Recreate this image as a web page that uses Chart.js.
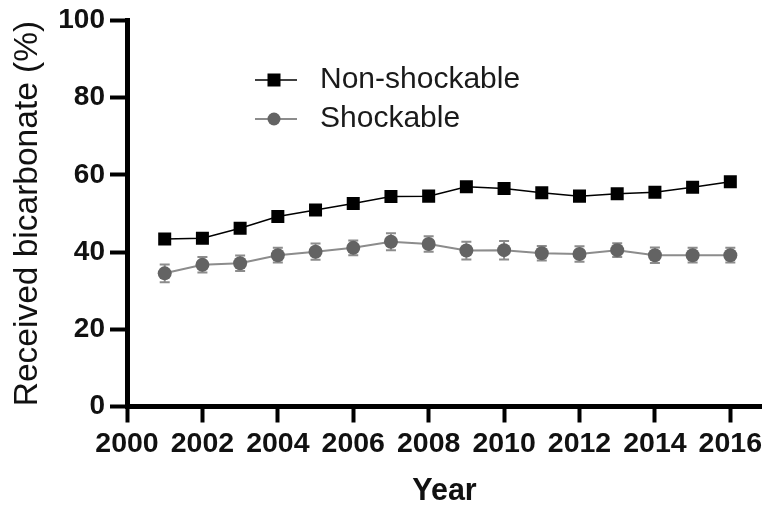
<!DOCTYPE html>
<html>
<head>
<meta charset="utf-8">
<script src="https://cdn.jsdelivr.net/npm/chart.js@4/dist/chart.umd.min.js"></script>
<style>
  html, body { margin: 0; padding: 0; background: #fff; }
  #wrap { width: 762px; height: 507px; }
</style>
</head>
<body>
<div id="wrap"><canvas id="c" width="762" height="507"></canvas></div>
<script>
const years = [2001, 2002, 2003, 2004, 2005, 2006, 2007, 2008, 2009, 2010, 2011, 2012, 2013, 2014, 2015, 2016];
const nonShockable = [43.4, 43.6, 46.2, 49.2, 50.9, 52.6, 54.4, 54.5, 56.9, 56.5, 55.4, 54.5, 55.1, 55.5, 56.8, 58.2];
const nonShockableErr = [1.0, 1.0, 1.0, 1.0, 1.0, 1.0, 1.0, 1.0, 1.0, 1.0, 1.0, 1.0, 1.0, 1.0, 1.0, 1.0];
const shockable = [34.5, 36.7, 37.1, 39.2, 40.1, 41.1, 42.7, 42.1, 40.4, 40.5, 39.7, 39.5, 40.5, 39.2, 39.2, 39.2];
const shockableErr = [2.3, 2.0, 2.0, 1.9, 2.1, 1.9, 2.2, 2.0, 2.3, 2.4, 1.9, 2.0, 1.8, 2.0, 1.9, 1.9];
const seriesNames = ['Non-shockable', 'Shockable'];
const xTicks = [2000, 2002, 2004, 2006, 2008, 2010, 2012, 2014, 2016];
const yTicks = [0, 20, 40, 60, 80, 100];
const xTitle = 'Year';
const yTitle = 'Received bicarbonate (%)';

const FONT = "'Liberation Sans', Arial, sans-serif";

const toPoints = (vals) => vals.map((v, i) => ({ x: years[i], y: v }));

const errorBars = {
  id: 'errorBars',
  beforeDatasetsDraw(chart) {
    const { ctx, scales: { x, y } } = chart;
    chart.data.datasets.forEach((ds) => {
      const errs = ds.errors;
      if (!errs) return;
      ctx.save();
      ctx.strokeStyle = ds.errorColor;
      ctx.lineWidth = 2;
      ds.data.forEach((p, i) => {
        const px = x.getPixelForValue(p.x);
        const y1 = y.getPixelForValue(p.y + errs[i]);
        const y2 = y.getPixelForValue(p.y - errs[i]);
        ctx.beginPath();
        ctx.moveTo(px, y1); ctx.lineTo(px, y2);
        ctx.moveTo(px - 5, y1); ctx.lineTo(px + 5, y1);
        ctx.moveTo(px - 5, y2); ctx.lineTo(px + 5, y2);
        ctx.stroke();
      });
      ctx.restore();
    });
  }
};

const insideLegend = {
  id: 'insideLegend',
  afterDraw(chart) {
    const { ctx } = chart;
    const rows = [80, 119];
    chart.data.datasets.forEach((ds, i) => {
      const cy = rows[i];
      ctx.save();
      ctx.strokeStyle = ds.borderColor;
      ctx.lineWidth = ds.borderWidth;
      ctx.beginPath();
      ctx.moveTo(255, cy); ctx.lineTo(297, cy);
      ctx.stroke();
      ctx.fillStyle = ds.pointBackgroundColor;
      if (ds.pointStyle === 'rect') {
        ctx.fillRect(274 - 6.5, cy - 6.5, 13, 13);
      } else {
        ctx.beginPath();
        ctx.arc(274, cy, 6.5, 0, Math.PI * 2);
        ctx.fill();
      }
      ctx.fillStyle = '#1a1a1a';
      ctx.font = '30px ' + FONT;
      ctx.textBaseline = 'middle';
      ctx.textAlign = 'left';
      ctx.fillText(ds.label, 320, cy);
      ctx.restore();
    });
  }
};

new Chart(document.getElementById('c'), {
  type: 'line',
  data: {
    datasets: [
      {
        label: seriesNames[0],
        data: toPoints(nonShockable),
        errors: nonShockableErr,
        errorColor: '#000',
        borderColor: '#000',
        borderWidth: 1.5,
        pointStyle: 'rect',
        pointRadius: 9.2,
        pointHoverRadius: 9.2,
        pointBackgroundColor: '#000',
        pointBorderColor: '#000',
        pointBorderWidth: 0,
        tension: 0
      },
      {
        label: seriesNames[1],
        data: toPoints(shockable),
        errors: shockableErr,
        errorColor: '#8c8c8c',
        borderColor: '#8c8c8c',
        borderWidth: 2,
        pointStyle: 'circle',
        pointRadius: 7,
        pointHoverRadius: 7,
        pointBackgroundColor: '#636363',
        pointBorderColor: '#636363',
        pointBorderWidth: 0,
        tension: 0
      }
    ]
  },
  options: {
    responsive: false,
    animation: false,
    devicePixelRatio: 1,
    layout: { autoPadding: false, padding: { top: 20.5, right: 0, bottom: 0, left: 0 } },
    plugins: { legend: { display: false }, tooltip: { enabled: false } },
    scales: {
      x: {
        type: 'linear',
        min: 2000,
        max: 2016.84,
        afterFit(s) { s.height = 100.5; s.paddingLeft = 0; s.paddingRight = 0; },
        afterBuildTicks(s) { s.ticks = xTicks.map(v => ({ value: v })); },
        ticks: {
          includeBounds: false,
          autoSkip: false,
          maxRotation: 0,
          padding: 5,
          color: '#111',
          font: { family: FONT, size: 28.5, weight: 'bold' },
          callback: (v) => String(v)
        },
        grid: {
          display: true,
          drawOnChartArea: false,
          drawTicks: true,
          tickLength: 16,
          tickWidth: 4,
          tickColor: '#000',
          color: '#000'
        },
        border: { display: true, width: 5, color: '#000' },
        title: {
          display: true,
          text: xTitle,
          color: '#111',
          font: { family: FONT, size: 30.5, weight: 'bold', lineHeight: 1 },
          padding: { top: 0, bottom: 0 }
        }
      },
      y: {
        min: 0,
        max: 100,
        afterFit(s) { s.width = 127; s.paddingTop = 0; s.paddingBottom = 0; },
        afterBuildTicks(s) { s.ticks = yTicks.map(v => ({ value: v })); },
        ticks: {
          padding: 5,
          color: '#111',
          font: { family: FONT, size: 28, weight: 'bold' },
          callback: (v) => String(v)
        },
        grid: {
          display: true,
          drawOnChartArea: false,
          drawTicks: true,
          tickLength: 17,
          tickWidth: 4,
          tickColor: '#000',
          color: '#000'
        },
        border: { display: true, width: 5, color: '#000' },
        title: {
          display: true,
          text: yTitle,
          color: '#111',
          font: { family: FONT, size: 33.5, weight: 'normal' },
          padding: { top: 8, bottom: 0 }
        }
      }
    }
  },
  plugins: [errorBars, insideLegend]
});
</script>
</body>
</html>
